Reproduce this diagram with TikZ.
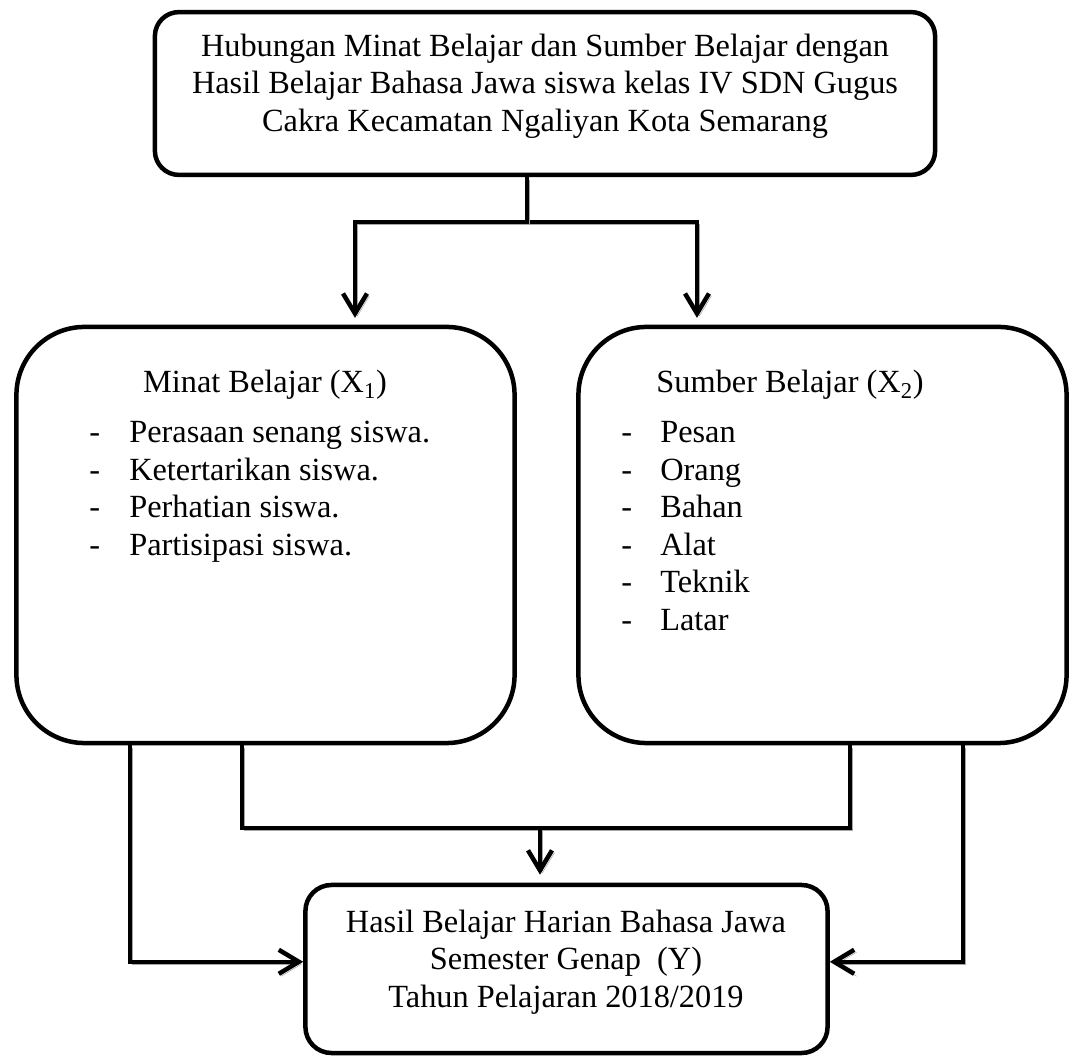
\documentclass[tikz,border=0pt]{standalone}
\usepackage{fontspec}
\setmainfont{Liberation Serif}
\usetikzlibrary{arrows.meta}

\tikzset{
  box/.style={draw, line width=3.2pt, rounded corners=#1, inner sep=0pt},
  txt/.style={font=\fontsize{23}{26.8}\selectfont, inner sep=0pt},
  wire/.style={line width=3.2pt, preaction={draw=black!35, transform canvas={shift={(0.06cm,-0.06cm)}}}},
  flow/.style={wire, -{Straight Barb[length=0.5cm, width=0.6cm]}}
}

\begin{document}
\begin{tikzpicture}[x=0.025cm, y=-0.025cm]
\useasboundingbox (0,0) rectangle (1081,1062);

% Title box
\node[box=0.6cm, minimum width=19.5cm, minimum height=4.07cm] (judul) at (545,93.5) {};
\node[txt, align=center] (judultext) at (545,86) {Hubungan Minat Belajar dan Sumber Belajar dengan\\
Hasil Belajar Bahasa Jawa siswa kelas IV SDN Gugus\\
Cakra Kecamatan Ngaliyan Kota Semarang};

% Variable boxes
\node[box=1.7cm, minimum width=12.45cm, minimum height=10.4cm] (minat) at (265.5,535) {};
\node[box=1.7cm, minimum width=12.2cm, minimum height=10.4cm] (sumber) at (822.5,535) {};
\node[txt, anchor=base] (minattitle) at (265,393) {Minat Belajar (X\textsubscript{1})};
\node[txt, anchor=base] (sumbertitle) at (790,393) {Sumber Belajar (X\textsubscript{2})};

\foreach \lbl [count=\i] in {Perasaan senang siswa., Ketertarikan siswa., Perhatian siswa., Partisipasi siswa.} {
  \node[txt, anchor=base west] (mdash\i) at (89,405.5+37.5*\i) {-};
  \node[txt, anchor=base west] (mitem\i) at (129,405.5+37.5*\i) {\lbl};
}
\foreach \lbl [count=\i] in {Pesan, Orang, Bahan, Alat, Teknik, Latar} {
  \node[txt, anchor=base west] (sdash\i) at (621,405.5+37.5*\i) {-};
  \node[txt, anchor=base west] (sitem\i) at (660,405.5+37.5*\i) {\lbl};
}

% Result box
\node[box=0.65cm, minimum width=13.05cm, minimum height=4.2cm] (hasil) at (566.5,969) {};
\node[txt, align=center] (hasiltext) at (566,962) {Hasil Belajar Harian Bahasa Jawa\\
Semester Genap~~(Y)\\
Tahun Pelajaran 2018/2019};

% Connectors
\coordinate (split) at (527,222);
\coordinate (merge) at (540,828);
\coordinate (inL) at (355,0);
\coordinate (inR) at (697,0);
\coordinate (outL1) at (130,0);
\coordinate (outL2) at (242,0);
\coordinate (outR1) at (850,0);
\coordinate (outR2) at (963,0);

\draw[flow, shorten >=0.17cm] (split) -| (minat.north -| inL);
\draw[flow, shorten >=0.17cm] (split) -| (sumber.north -| inR);
\draw[wire] (judul.south -| split) -- (split);

\draw[wire] (minat.south -| outL2) |- (merge) -| (sumber.south -| outR1);
\draw[flow, shorten >=0.2cm] (merge) -- (hasil.north -| merge);
\draw[flow] (minat.south -| outL1) |- ([yshift=0.18cm]hasil.west);
\draw[flow] (sumber.south -| outR2) |- ([yshift=0.18cm]hasil.east);
\end{tikzpicture}
\end{document}
